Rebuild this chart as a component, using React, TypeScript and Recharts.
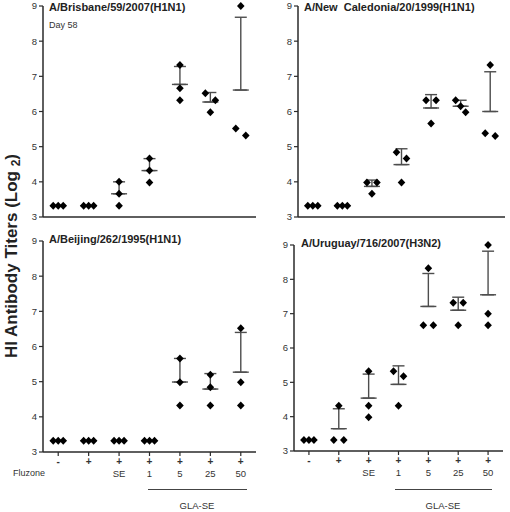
import { ScatterChart, Scatter, XAxis, YAxis, ErrorBar } from 'recharts'

const groups = [1, 2, 3, 4, 5, 6, 7]
const fluzone = ['-', '+', '+', '+', '+', '+', '+']
const adjuvant = ['', '', 'SE', '1', '5', '25', '50']
const yTicks = [3, 4, 5, 6, 7, 8, 9]

// individual HI titers (log2), three animals per group
const brisbanePts = [
  [3.32, 3.32, 3.32], [3.32, 3.32, 3.32], [4.0, 3.66, 3.32], [4.66, 4.32, 3.98],
  [7.32, 6.66, 6.32], [6.52, 6.32, 5.98], [9.0, 5.52, 5.32],
]
const brisbaneMean = [3.32, 3.32, 3.66, 4.32, 6.77, 6.27, 6.61]
const brisbaneSd = [0, 0, 0.34, 0.34, 0.51, 0.27, 2.07]

const caledoniaPts = [
  [3.32, 3.32, 3.32], [3.32, 3.32, 3.32], [3.98, 3.98, 3.66], [4.84, 4.66, 3.98],
  [6.32, 6.32, 5.66], [6.32, 6.15, 5.98], [7.32, 5.38, 5.3],
]
const caledoniaMean = [3.32, 3.32, 3.87, 4.49, 6.1, 6.15, 6.0]
const caledoniaSd = [0, 0, 0.18, 0.45, 0.38, 0.17, 1.13]

const beijingPts = [
  [3.32, 3.32, 3.32], [3.32, 3.32, 3.32], [3.32, 3.32, 3.32], [3.32, 3.32, 3.32],
  [5.66, 4.98, 4.32], [5.2, 4.84, 4.32], [6.52, 4.98, 4.32],
]
const beijingMean = [3.32, 3.32, 3.32, 3.32, 4.99, 4.79, 5.27]
const beijingSd = [0, 0, 0, 0, 0.67, 0.44, 1.13]

const uruguayPts = [
  [3.32, 3.32, 3.32], [4.32, 3.32, 3.32], [5.32, 4.32, 3.98], [5.32, 5.18, 4.32],
  [8.32, 6.66, 6.66], [7.32, 7.32, 6.66], [9.0, 7.0, 6.66],
]
const uruguayMean = [3.32, 3.65, 4.54, 4.94, 7.21, 7.1, 7.55]
const uruguaySd = [0, 0.58, 0.7, 0.54, 0.96, 0.38, 1.27]

const FONT = 'Arial, "Liberation Sans", sans-serif'
const INK = '#333'
const AXIS = '#2a2a2a'
const BAR = '#4d4d4d'

// points that would overlap get pushed apart sideways, like a column scatter
function spread(vals: number[]) {
  const order = vals.map((v, i) => ({ v, i })).sort((a, b) => b.v - a.v)
  const dx = vals.map(() => 0)
  let start = 0
  for (let k = 1; k <= order.length; k++) {
    if (k === order.length || order[k - 1].v - order[k].v > 0.25) {
      const n = k - start
      if (n > 1) {
        const step = 10 / (n - 1)
        for (let j = start; j < k; j++) dx[order[j].i] = (j - start - (n - 1) / 2) * step
      }
      start = k
    }
  }
  return dx
}

const toPoints = (pts: number[][]) =>
  pts.flatMap((vals, g) => {
    const dx = spread(vals)
    return vals.map((v, i) => ({ x: groups[g], y: v, dx: dx[i] }))
  })

const toMeans = (mean: number[], sd: number[]) =>
  mean.map((m, g) => ({ x: groups[g], y: m, err: [0, sd[g]] }))

function Diamond(p: any) {
  const cx = p.cx + (p.payload?.dx ?? 0)
  return <path d={`M${cx},${p.cy - 4}L${cx + 3.8},${p.cy}L${cx},${p.cy + 4}L${cx - 3.8},${p.cy}Z`} fill="#000" />
}

function MeanMark(p: any) {
  return <line x1={p.cx - 8} x2={p.cx + 8} y1={p.cy} y2={p.cy} stroke={BAR} strokeWidth={1.4} />
}

function GroupTick({ x, y, payload }: any) {
  const i = payload.value - 1
  return (
    <g transform={`translate(${x},${y})`}>
      <text y={7} textAnchor="middle" fontSize={10} fontWeight="bold" fill={INK}>{fluzone[i]}</text>
      <text y={19} textAnchor="middle" fontSize={9.5} fill={INK}>{adjuvant[i]}</text>
    </g>
  )
}

interface PanelProps {
  left: number
  top: number
  width: number
  height: number
  margin: { top: number; right: number; bottom: number; left: number }
  yWidth: number
  pts: number[][]
  mean: number[]
  sd: number[]
  bottom?: boolean
}

function Panel({ left, top, width, height, margin, yWidth, pts, mean, sd, bottom }: PanelProps) {
  return (
    <div style={{ position: 'absolute', left, top }}>
      <ScatterChart width={width} height={height} margin={margin}>
        <XAxis
          type="number"
          dataKey="x"
          domain={[0.5, 7.5]}
          ticks={groups}
          interval={0}
          axisLine={{ stroke: AXIS, strokeWidth: 1.5 }}
          tickLine={bottom ? { stroke: AXIS, strokeWidth: 1.2 } : false}
          tickSize={4}
          tick={bottom ? <GroupTick /> : false}
          height={bottom ? 40 : 10}
        />
        <YAxis
          type="number"
          dataKey="y"
          domain={[3, 9]}
          ticks={yTicks}
          interval={0}
          width={yWidth}
          axisLine={{ stroke: AXIS, strokeWidth: 1.5 }}
          tickLine={{ stroke: AXIS, strokeWidth: 1.2 }}
          tickSize={4}
          tick={{ fill: INK, fontSize: 9.5 }}
        />
        <Scatter data={toMeans(mean, sd)} shape={MeanMark} isAnimationActive={false}>
          <ErrorBar dataKey="err" direction="y" width={6} stroke={BAR} strokeWidth={1.4} isAnimationActive={false} />
        </Scatter>
        <Scatter data={toPoints(pts)} shape={Diamond} isAnimationActive={false} />
      </ScatterChart>
    </div>
  )
}

const titleStyle = {
  position: 'absolute' as const,
  fontSize: 11,
  fontWeight: 'bold' as const,
  color: '#222',
  lineHeight: '13px',
  whiteSpace: 'pre' as const,
}

const small = { position: 'absolute' as const, fontSize: 9.5, color: INK, lineHeight: '12px' }

export default function App() {
  return (
    <div style={{ position: 'absolute', left: 0, top: 0, width: 510, height: 512, background: '#fff', fontFamily: FONT }}>
      <Panel left={0} top={0} width={260} height={227} margin={{ top: 6, right: 4, bottom: 0, left: 0 }}
        yWidth={43} pts={brisbanePts} mean={brisbaneMean} sd={brisbaneSd} />
      <Panel left={255} top={0} width={255} height={227} margin={{ top: 6, right: 5, bottom: 0, left: 0 }}
        yWidth={43} pts={caledoniaPts} mean={caledoniaMean} sd={caledoniaSd} />
      <Panel left={0} top={230} width={260} height={262} margin={{ top: 11, right: 4, bottom: 0, left: 0 }}
        yWidth={43} pts={beijingPts} mean={beijingMean} sd={beijingSd} bottom />
      <Panel left={255} top={230} width={255} height={261} margin={{ top: 15, right: 7, bottom: 0, left: 0 }}
        yWidth={39} pts={uruguayPts} mean={uruguayMean} sd={uruguaySd} bottom />

      <div style={{ ...titleStyle, left: 49, top: 1 }}>A/Brisbane/59/2007(H1N1)</div>
      <div style={{ ...titleStyle, left: 304, top: 1 }}>A/New  Caledonia/20/1999(H1N1)</div>
      <div style={{ ...titleStyle, left: 49, top: 233 }}>A/Beijing/262/1995(H1N1)</div>
      <div style={{ ...titleStyle, left: 301, top: 237 }}>A/Uruguay/716/2007(H3N2)</div>
      <div style={{ ...small, left: 49, top: 19, fontSize: 9 }}>Day 58</div>

      <div style={{ ...small, left: 13, top: 467, fontSize: 9 }}>Fluzone</div>
      <div style={{ position: 'absolute', left: 148, top: 489, width: 99, borderTop: '1px solid #444' }} />
      <div style={{ ...small, left: 147, width: 100, textAlign: 'center', top: 500 }}>GLA-SE</div>
      <div style={{ position: 'absolute', left: 395, top: 489, width: 97, borderTop: '1px solid #444' }} />
      <div style={{ ...small, left: 393, width: 100, textAlign: 'center', top: 500 }}>GLA-SE</div>

      <div style={{
        position: 'absolute', left: 12 - 130, top: 256 - 11, width: 260, height: 22, lineHeight: '22px',
        textAlign: 'center', transform: 'rotate(-90deg)', fontSize: 17, fontWeight: 'bold', color: '#222',
      }}>
        HI Antibody Titers (Log <span style={{ fontSize: 12, verticalAlign: -3 }}>2</span>)
      </div>
    </div>
  )
}
